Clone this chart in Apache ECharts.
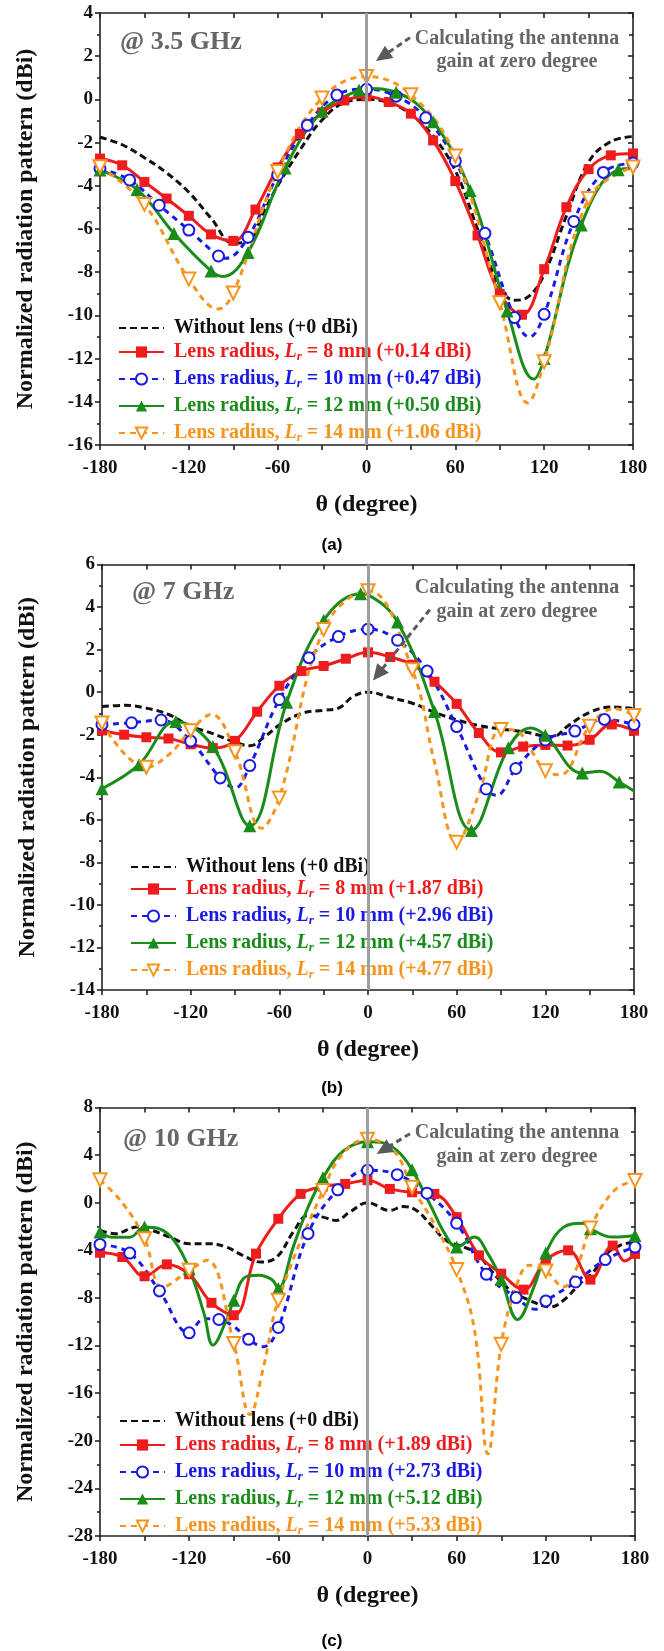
<!DOCTYPE html>
<html>
<head>
<meta charset="utf-8">
<script src="https://cdn.jsdelivr.net/npm/echarts@6/dist/echarts.min.js"></script>
<style>
  html, body { margin: 0; padding: 0; background: #ffffff; }
  .panel { position: absolute; left: 0; width: 664px; }
</style>
</head>
<body>
<div id="pa" class="panel" style="top:0;height:555px"></div>
<div id="pb" class="panel" style="top:555px;height:543px"></div>
<div id="pc" class="panel" style="top:1098px;height:553px"></div>
<script>
// ---------------- measured patterns (angle in degrees, gain in dBi) ----------------

// 3.5 GHz
const thetaA_none = [-180,-165,-150,-135,-120,-105,-90,-80,-70,-60,-45,-30,-15,0,15,30,45,60,75,90,100,110,120,135,150,165,180];
const gainA_none  = [-1.75,-2.1,-2.7,-3.4,-4.3,-5.5,-6.65,-6.6,-5.3,-4.0,-2.35,-0.95,-0.15,0,-0.15,-0.7,-1.7,-3.3,-6.0,-8.7,-9.3,-9.1,-8.1,-5.4,-2.9,-1.95,-1.72];
const thetaA_8  = [-180,-165,-150,-135,-120,-105,-90,-75,-60,-45,-30,-15,0,15,30,45,60,75,90,105,120,135,150,165,180];
const gainA_8   = [-2.74,-3.05,-3.82,-4.59,-5.39,-6.25,-6.55,-5.1,-3.15,-1.6,-0.6,-0.05,0.14,-0.12,-0.66,-1.9,-3.78,-6.3,-9.0,-9.97,-7.86,-4.99,-3.23,-2.59,-2.5];
const thetaA_10 = [-180,-160,-140,-120,-100,-95,-80,-60,-40,-20,0,20,40,60,80,100,110,120,140,160,180];
const gainA_10  = [-3.2,-3.73,-4.9,-6.05,-7.25,-7.35,-6.38,-3.5,-1.2,0.2,0.47,0.15,-0.85,-2.85,-6.2,-10.1,-11.0,-9.95,-5.65,-3.38,-2.95];
const thetaA_12 = [-180,-155,-130,-105,-97,-80,-55,-30,-5,0,20,45,70,95,113,120,145,170,180];
const gainA_12  = [-3.27,-4.17,-6.21,-7.94,-8.2,-7.09,-3.18,-0.55,0.44,0.5,0.33,-1.03,-4.22,-9.8,-12.95,-12.0,-5.82,-3.26,-3.2];
const thetaA_14 = [-180,-150,-120,-100,-90,-60,-30,0,30,60,90,109,120,150,180];
const gainA_14  = [-3.12,-4.86,-8.32,-9.7,-8.96,-3.34,0.06,1.06,0.22,-2.62,-9.41,-14.05,-12.15,-4.59,-3.13];

// 7 GHz
const thetaB_none = [-180,-165,-150,-135,-120,-105,-90,-80,-70,-60,-45,-30,-20,-10,0,15,30,45,60,75,90,105,125,135,150,165,180];
const gainB_none  = [-0.68,-0.62,-0.75,-1.05,-1.6,-1.95,-2.35,-2.52,-2.1,-1.55,-1.0,-0.85,-0.75,-0.2,0,-0.25,-0.52,-0.95,-1.3,-1.57,-1.73,-1.86,-2.1,-1.6,-0.95,-0.7,-0.78];
const thetaB_8  = [-180,-165,-150,-135,-120,-105,-90,-75,-60,-45,-30,-15,0,15,30,45,60,75,90,105,120,135,150,165,180];
const gainB_8   = [-1.8,-2.0,-2.12,-2.18,-2.45,-2.63,-2.29,-0.92,0.3,0.99,1.23,1.57,1.87,1.65,1.29,0.49,-0.55,-1.92,-2.83,-2.56,-2.48,-2.51,-2.24,-1.52,-1.81];
const thetaB_10 = [-180,-160,-140,-120,-100,-90,-80,-60,-40,-20,0,20,40,60,80,87,100,120,140,160,180];
const gainB_10  = [-1.52,-1.44,-1.31,-2.3,-4.03,-4.5,-3.45,-0.35,1.62,2.61,2.96,2.44,0.99,-1.62,-4.55,-4.85,-3.59,-2.25,-1.83,-1.28,-1.52];
const thetaB_12 = [-180,-155,-130,-105,-80,-55,-30,-5,0,20,45,70,95,110,120,145,157,170,180];
const gainB_12  = [-4.54,-3.41,-1.38,-2.56,-6.28,-0.47,3.38,4.63,4.57,3.3,-0.91,-6.5,-2.61,-1.68,-2.03,-3.8,-3.72,-4.22,-4.65];
const thetaB_14 = [-180,-150,-135,-120,-106,-90,-72,-60,-30,0,30,45,60,75,90,100,110,120,130,150,167,180];
const gainB_14  = [-1.45,-3.53,-2.95,-1.81,-1.05,-2.8,-6.4,-4.97,2.95,4.77,1.05,-3.3,-7.05,-4.8,-1.75,-1.8,-2.7,-3.7,-3.88,-1.6,-0.78,-1.1];

// 10 GHz
const thetaC_none = [-180,-170,-155,-145,-133,-120,-106,-95,-84,-72,-61,-50,-40,-30,-21,-12,0,15,24,33,42,53,65,74,83,96,109,123,132,143,152,161,170,180];
const gainC_none  = [-2.33,-2.6,-2.05,-2.33,-2.89,-3.44,-3.44,-3.73,-4.42,-4.98,-4.56,-2.47,-1.07,-1.21,-1.49,-0.79,0,-0.65,-0.32,-0.65,-1.77,-3.17,-3.73,-4.28,-5.68,-7.35,-8.19,-8.75,-8.19,-6.79,-5.82,-4.28,-3.58,-3.3];
const thetaC_8  = [-180,-165,-150,-135,-120,-105,-90,-75,-60,-45,-30,-15,0,15,30,45,60,75,90,105,120,135,150,165,173,180];
const gainC_8   = [-4.2,-4.56,-6.18,-5.18,-6.01,-8.41,-9.45,-4.28,-1.35,0.74,1.36,1.58,1.89,1.16,0.88,0.74,-1.21,-4.42,-5.96,-7.3,-4.84,-4.0,-6.46,-3.6,-4.9,-4.3];
const thetaC_10 = [-180,-160,-140,-120,-110,-100,-90,-80,-70,-60,-40,-20,0,20,40,60,80,100,113,120,140,160,180];
const gainC_10  = [-3.5,-4.23,-7.41,-10.93,-9.75,-9.81,-10.4,-11.48,-12.1,-10.48,-2.6,1.08,2.73,2.36,0.8,-1.72,-6.01,-7.97,-8.95,-8.25,-6.66,-4.78,-3.73];
const thetaC_12 = [-180,-172,-160,-150,-140,-130,-120,-110,-104,-95,-90,-82,-73,-64,-60,-50,-40,-30,-16,0,9,20,30,43,52,60,72,81,90,101,112,120,132,145,150,165,180];
const gainC_12  = [-2.47,-2.9,-2.9,-2.05,-2.2,-3.2,-5.54,-9.3,-11.96,-9.87,-8.19,-6.24,-6.1,-6.5,-7.21,-3.73,-0.38,2.09,4.37,5.12,5.07,4.37,2.76,-0.38,-2.6,-3.73,-2.89,-4.28,-6.46,-9.81,-7.07,-4.23,-2.05,-1.72,-2.19,-2.89,-2.75];
const thetaC_14 = [-180,-165,-150,-138,-120,-108,-90,-79,-70,-60,-30,-16,0,18,30,45,60,72,81,90,100,109,120,132,141,150,166,180];
const gainC_14  = [1.92,0.0,-3.03,-7.1,-5.68,-4.84,-11.82,-17.8,-13.8,-8.19,1.02,4.2,5.33,4.3,1.3,-1.8,-5.62,-10.7,-21.1,-11.9,-7.07,-5.26,-5.74,-7.07,-5.4,-2.13,1.02,1.86];

// legend text pieces
const lensRadii = ['8', '10', '12', '14'];
const gainUpA = ['+0.14', '+0.47', '+0.50', '+1.06'];
const gainUpB = ['+1.87', '+2.96', '+4.57', '+4.77'];
const gainUpC = ['+1.89', '+2.73', '+5.12', '+5.33'];

// y-axis ranges: [min, max, label step]
const yRangeA = [-16, 4, 2];
const yRangeB = [-14, 6, 2];
const yRangeC = [-28, 8, 4];

// ---------------- styling ----------------
const SERIF = '"Liberation Serif", "Times New Roman", Times, serif';
const SANS = '"Liberation Sans", Arial, Helvetica, sans-serif';
const AXIS_COLOR = '#222222';
const NOTE_GRAY = '#666666';

const CURVE_STYLES = [
  { color: '#111111', dash: [7, 4], symbol: 'none', size: 0 },
  { color: '#ee1c1c', dash: 'solid', symbol: 'rect', size: 10 },
  { color: '#1a1ae6', dash: [6, 5], symbol: 'emptyCircle', size: 11 },
  { color: '#1a8c1a', dash: 'solid', symbol: 'triangle', size: 13 },
  { color: '#f7941d', dash: [6, 5], symbol: 'emptyTriangle', size: 13, rotate: 180 }
];

// markers are drawn only on the sampling grid of each curve
function toSeriesData(angles, gains, step) {
  return angles.map((a, i) => {
    if (step > 0 && (a + 180) % step === 0) return [a, gains[i]];
    return { value: [a, gains[i]], symbol: 'none' };
  });
}

function legendRich(color) {
  return {
    L: { fontFamily: SERIF, fontSize: 20, fontWeight: 'bold', fontStyle: 'italic', color: color, lineHeight: 22 },
    r: { fontFamily: SERIF, fontSize: 13, fontWeight: 'bold', fontStyle: 'italic', color: color, lineHeight: 12, verticalAlign: 'bottom' }
  };
}

function buildPanel(cfg) {
  const chart = echarts.init(document.getElementById(cfg.id), null, { renderer: 'canvas' });
  const names = ['Without lens (+0 dBi)'].concat(
    lensRadii.map((r, i) => 'Lens radius, Lr = ' + r + ' mm (' + cfg.gainUp[i] + ' dBi)'));

  const series = cfg.curves.map((c, k) => {
    const st = CURVE_STYLES[k];
    const s = {
      type: 'line',
      name: names[k],
      xAxisIndex: 0,
      yAxisIndex: 0,
      data: toSeriesData(c[0], c[1], cfg.steps[k]),
      smooth: 0.4,
      symbol: st.symbol,
      symbolSize: st.size,
      symbolRotate: st.rotate || 0,
      showSymbol: st.symbol !== 'none',
      lineStyle: { color: st.color, width: 3, type: st.dash },
      itemStyle: { color: st.color, borderColor: st.color, borderWidth: st.symbol.indexOf('empty') === 0 ? 2 : 0 },
      emphasis: { disabled: true },
      animation: false
    };
    if (k === cfg.curves.length - 1) {
      // boresight reference line at 0 degree
      s.markLine = {
        silent: true,
        symbol: ['none', 'none'],
        label: { show: false },
        lineStyle: { color: '#9e9e9e', width: 3, type: 'solid' },
        data: [{ xAxis: 0 }],
        animation: false
      };
    }
    return s;
  });

  const legendText = {
    fontFamily: SERIF, fontSize: 20, fontWeight: 'bold', lineHeight: 22, padding: [0, 0, 0, 5]
  };
  const legendItem = (k) => {
    const st = CURVE_STYLES[k];
    const item = { name: names[k], textStyle: { color: st.color, rich: legendRich(st.color) } };
    if (k === 0) item.itemStyle = { opacity: 0 };
    return item;
  };
  const legendBase = {
    orient: 'vertical',
    left: cfg.legendLeft,
    itemWidth: 45,
    itemHeight: 14,
    itemGap: 5,
    selectedMode: false,
    textStyle: legendText,
    formatter: (n) => n.replace('Lr', '{L|L}{r|r}')
  };

  const yr = cfg.yRange;
  const tickLine = { color: AXIS_COLOR, width: 1.6 };
  const labelFont = { fontFamily: SERIF, fontSize: 19, fontWeight: 'bold', color: '#111111' };
  const titleFont = { fontFamily: SERIF, fontSize: 24, fontWeight: 'bold', color: '#111111' };

  const option = {
    backgroundColor: '#ffffff',
    animation: false,
    grid: { left: cfg.grid[0], top: cfg.grid[1], width: cfg.grid[2], height: cfg.grid[3], containLabel: false },
    xAxis: [
      {
        type: 'value', position: 'bottom', min: -180, max: 180, interval: 60,
        axisLine: { show: true, onZero: false, lineStyle: tickLine },
        axisTick: { show: true, inside: false, length: 5, lineStyle: tickLine },
        minorTick: { show: true, splitNumber: 2, length: 5, lineStyle: tickLine },
        axisLabel: Object.assign({ margin: 14 }, labelFont),
        splitLine: { show: false }, minorSplitLine: { show: false },
        name: 'θ (degree)', nameLocation: 'middle', nameGap: 48, nameTextStyle: titleFont
      },
      {
        type: 'value', position: 'top', min: -180, max: 180, interval: 60,
        axisLine: { show: true, onZero: false, lineStyle: tickLine },
        axisTick: { show: true, inside: true, length: 5, lineStyle: tickLine },
        minorTick: { show: true, splitNumber: 2, length: 5, lineStyle: tickLine },
        axisLabel: { show: false },
        splitLine: { show: false }, minorSplitLine: { show: false }
      }
    ],
    yAxis: [
      {
        type: 'value', position: 'left', min: yr[0], max: yr[1], interval: yr[2],
        axisLine: { show: true, onZero: false, lineStyle: tickLine },
        axisTick: { show: true, inside: false, length: 5, lineStyle: tickLine },
        minorTick: { show: true, splitNumber: 2, length: 3, lineStyle: tickLine },
        axisLabel: Object.assign({ margin: 7 }, labelFont),
        splitLine: { show: false }, minorSplitLine: { show: false },
        name: 'Normalized radiation pattern (dBi)', nameLocation: 'middle', nameGap: 62, nameTextStyle: titleFont
      },
      {
        type: 'value', position: 'right', min: yr[0], max: yr[1], interval: yr[2],
        axisLine: { show: true, onZero: false, lineStyle: tickLine },
        axisTick: { show: true, inside: true, length: 5, lineStyle: tickLine },
        minorTick: { show: true, splitNumber: 2, length: 4, lineStyle: tickLine },
        axisLabel: { show: false },
        splitLine: { show: false }, minorSplitLine: { show: false }
      }
    ],
    legend: [
      Object.assign({}, legendBase, { top: cfg.legendTops[0], data: [legendItem(0)] }),
      Object.assign({}, legendBase, { top: cfg.legendTops[1], data: [legendItem(1), legendItem(2), legendItem(3), legendItem(4)] })
    ],
    series: series
  };
  chart.setOption(option);

  // annotations: frequency tag, note text, dashed arrow and sub-figure label
  const toPx = (p) => chart.convertToPixel({ xAxisIndex: 0, yAxisIndex: 0 }, p);
  const tail = toPx(cfg.arrow[0]);
  const tip = toPx(cfg.arrow[1]);
  const dx = tip[0] - tail[0], dy = tip[1] - tail[1];
  const len = Math.hypot(dx, dy);
  const ux = dx / len, uy = dy / len, nx = -uy, ny = ux;
  const headLen = 16, headHalf = 7.5;
  const base = [tip[0] - ux * headLen, tip[1] - uy * headLen];

  const textEl = (x, y, text, size, fill, family, align) => ({
    type: 'text', x: x, y: y, z: 50, silent: true,
    style: { text: text, fontFamily: family, fontSize: size, fontWeight: 'bold', fill: fill, align: align, verticalAlign: 'middle' }
  });

  chart.setOption({
    graphic: [
      textEl(cfg.tag[0], cfg.tag[1], cfg.tag[2], 26, NOTE_GRAY, SERIF, 'left'),
      textEl(cfg.note[0], cfg.note[1], 'Calculating the antenna', 20, NOTE_GRAY, SERIF, 'center'),
      textEl(cfg.note[0], cfg.note[2], 'gain at zero degree', 20, NOTE_GRAY, SERIF, 'center'),
      {
        type: 'line', z: 50, silent: true,
        shape: { x1: tail[0], y1: tail[1], x2: base[0] + ux * 2, y2: base[1] + uy * 2 },
        style: { stroke: '#5a5a5a', lineWidth: 3, lineDash: [6, 4] }
      },
      {
        type: 'polygon', z: 50, silent: true,
        shape: { points: [[tip[0], tip[1]], [base[0] + nx * headHalf, base[1] + ny * headHalf], [base[0] - nx * headHalf, base[1] - ny * headHalf]] },
        style: { fill: '#5a5a5a' }
      },
      textEl(332, cfg.subLabel[1], cfg.subLabel[0], 17, '#000000', SANS, 'center')
    ]
  });
  return chart;
}

buildPanel({
  id: 'pa',
  grid: [100, 13, 533, 432],
  yRange: yRangeA,
  gainUp: gainUpA,
  curves: [[thetaA_none, gainA_none], [thetaA_8, gainA_8], [thetaA_10, gainA_10], [thetaA_12, gainA_12], [thetaA_14, gainA_14]],
  steps: [0, 15, 20, 25, 30],
  legendLeft: 113,
  legendTops: [312, 336],
  tag: [120, 42, '@ 3.5 GHz'],
  note: [517, 39, 62],
  arrow: [[29.4, 2.86], [6.4, 1.78]],
  subLabel: ['(a)', 545]
});

buildPanel({
  id: 'pb',
  grid: [102, 7, 532, 428],
  yRange: yRangeB,
  gainUp: gainUpB,
  curves: [[thetaB_none, gainB_none], [thetaB_8, gainB_8], [thetaB_10, gainB_10], [thetaB_12, gainB_12], [thetaB_14, gainB_14]],
  steps: [0, 15, 20, 25, 30],
  legendLeft: 125,
  legendTops: [296, 318],
  tag: [132, 37, '@ 7 GHz'],
  note: [517, 33, 57],
  arrow: [[41.8, 3.88], [3.4, 0.55]],
  subLabel: ['(b)', 533]
});

buildPanel({
  id: 'pc',
  grid: [100, 9, 535, 429],
  yRange: yRangeC,
  gainUp: gainUpC,
  curves: [[thetaC_none, gainC_none], [thetaC_8, gainC_8], [thetaC_10, gainC_10], [thetaC_12, gainC_12], [thetaC_14, gainC_14]],
  steps: [0, 15, 20, 30, 30],
  legendLeft: 114,
  legendTops: [307, 331],
  tag: [123, 41, '@ 10 GHz'],
  note: [517, 35, 59],
  arrow: [[28.6, 5.8], [6.2, 4.1]],
  subLabel: ['(c)', 543]
});
</script>
</body>
</html>
